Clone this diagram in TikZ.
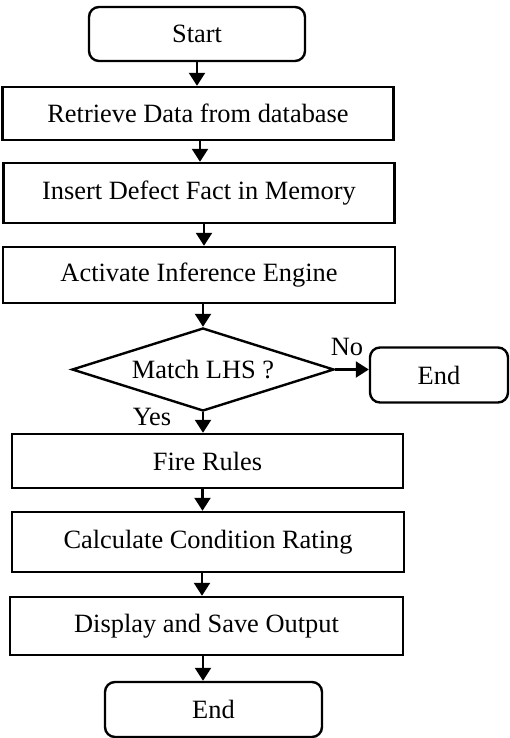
\documentclass[tikz,border=0pt]{standalone}
\usepackage{fontspec}
\setmainfont{Liberation Serif}
\usetikzlibrary{shapes.geometric,arrows.meta}
\begin{document}
\begin{tikzpicture}[x=1pt,y=-1pt,
  every node/.style={font=\fontsize{26.4}{30}\selectfont, inner sep=0pt},
  procbox/.style={draw, line width=2.4pt, rectangle},
  termbox/.style={draw, line width=2.4pt, rectangle, rounded corners=10pt},
  decbox/.style={draw, line width=2.4pt, diamond, shape aspect=3.16},
  arr/.style={line width=2.2pt, -{Triangle[width=16pt,length=13pt]}},
  lbl/.style={}]
\useasboundingbox (0,0) rectangle (510,738);
\node[termbox, minimum width=216pt, minimum height=54pt] (start) at (197,34) {Start};
\node[procbox, minimum width=391pt, minimum height=53pt] (retr) at (198,113.5) {Retrieve Data from database};
\node[procbox, minimum width=391pt, minimum height=60pt] (ins) at (199,193) {Insert Defect Fact in Memory};
\node[procbox, minimum width=392pt, minimum height=56pt] (act) at (199,275) {Activate Inference Engine};
\node[decbox, minimum width=262pt, minimum height=83pt] (dia) at (203,369.5) {Match LHS ?};
\node[termbox, minimum width=138pt, minimum height=55pt] (end1) at (439,375) {End};
\node[procbox, minimum width=391pt, minimum height=54pt] (fire) at (207.5,461) {Fire Rules};
\node[procbox, minimum width=392pt, minimum height=60pt] (calc) at (208,542) {Calculate Condition Rating};
\node[procbox, minimum width=393pt, minimum height=58pt] (disp) at (206.5,626) {Display and Save Output};
\node[termbox, minimum width=217pt, minimum height=55pt] (end2) at (213.5,709.5) {End};
\node[lbl] (no) at (347,347) {No};
\node[lbl] (yes) at (152,417) {Yes};
\draw[arr] (start.south) -- (start.south |- retr.north);
\draw[arr] ([xshift=2pt]retr.south) -- ([xshift=2pt]retr.south |- ins.north);
\draw[arr] ([xshift=5pt]ins.south) -- ([xshift=5pt]ins.south |- act.north);
\draw[arr] (act.south -| dia.north) -- (dia.north);
\draw[arr] (dia.east) -- (dia.east -| end1.west);
\draw[arr] (dia.south) -- (dia.south |- fire.north);
\draw[arr] ([xshift=-5pt]fire.south) -- ([xshift=-5pt]fire.south |- calc.north);
\draw[arr] ([xshift=-6pt]calc.south) -- ([xshift=-6pt]calc.south |- disp.north);
\draw[arr] ([xshift=-3.5pt]disp.south) -- ([xshift=-3.5pt]disp.south |- end2.north);
\end{tikzpicture}
\end{document}
